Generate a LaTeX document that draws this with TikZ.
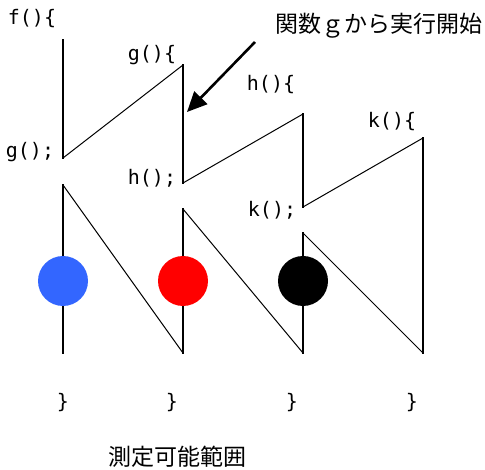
\documentclass[tikz,border=0pt]{standalone}
\usepackage{fontspec}
\usepackage{xcolor}
\usepackage{tikz}
\usetikzlibrary{arrows.meta, positioning}
\newfontfamily\jpfont{Noto Sans CJK JP}
\newfontfamily\codefont{DejaVu Sans Mono}
\definecolor{CallBlue}{RGB}{51, 102, 255}
\definecolor{CallRed}{RGB}{255, 0, 0}
\definecolor{CallBlack}{RGB}{0, 0, 0}
\tikzset{
  code/.style={inner sep=0pt, font=\codefont\fontsize{20}{22}\selectfont,
    text height=15pt, text depth=4pt},
  jlabel/.style={inner sep=0pt, font=\jpfont\fontsize{23}{25}\selectfont},
  vert/.style={line width=1.6pt, line cap=rect},
  diag/.style={line width=1pt},
  mark dot/.style={circle, inner sep=0pt, minimum size=50pt, draw=none},
  startarr/.style={-{Triangle[length=20pt,width=18pt]}, line width=2.6pt},
}

\begin{document}
\begin{tikzpicture}[x=1pt, y=-1pt]
  \useasboundingbox (0,0) rectangle (485,470);
  % stack of calls, entering
  \coordinate (f1) at (63,40);
  \coordinate (g0) at (63,158);
  \coordinate (g1) at (183,65);
  \coordinate (h0) at (183,183);
  \coordinate (h1) at (303,114);
  \coordinate (k0) at (303,207);
  \coordinate (k1) at (423,138);
  \coordinate (kend) at (423,353);
  % returning
  \coordinate (fa) at (63,185);
  \coordinate (fb) at (63,353);
  \coordinate (ga) at (183,209);
  \coordinate (gb) at (183,353);
  \coordinate (ha) at (303,233);
  \coordinate (hb) at (303,353);

  \draw[vert] (f1) -- (g0);
  \draw[diag] (g0) -- (g1);
  \draw[vert] (g1) -- (h0);
  \draw[diag] (h0) -- (h1);
  \draw[vert] (h1) -- (k0);
  \draw[diag] (k0) -- (k1);
  \draw[vert] (k1) -- (kend);

  \draw[vert] (fb) -- (fa);
  \draw[diag] (fa) -- (gb);
  \draw[vert] (gb) -- (ga);
  \draw[diag] (ga) -- (hb);
  \draw[vert] (hb) -- (ha);
  \draw[diag] (ha) -- (kend);

  \node[mark dot, fill=CallBlue] (dotf) at (63,281) {};
  \node[mark dot, fill=CallRed] (dotg) at (183,281) {};
  \node[mark dot, fill=CallBlack] (doth) at (303,281) {};

  \node[code] (fopen) at (32,19) {f()\{};
  \node[code] (gcall) at (30,152) {g();};
  \node[code] (gopen) at (152,55) {g()\{};
  \node[code] (hcall) at (152,179) {h();};
  \node[code] (hopen) at (271,85) {h()\{};
  \node[code] (kopen) at (392,122) {k()\{};
  \node[code] (kcall) at (272,211) {k();};

  \node[code] (fclose) at (63,403) {\}};
  \node[code] (gclose) at (172,403) {\}};
  \node[code] (hclose) at (292,403) {\}};
  \node[code] (kclose) at (412,403) {\}};

  \node[jlabel] (start) at (379,26) {関数ｇから実行開始};
  \coordinate (arrtail) at (255,42);
  \coordinate (arrhead) at (187,112);
  \draw[startarr] (arrtail) -- (arrhead);

  \node[jlabel] (range) at (177,457) {測定可能範囲};
\end{tikzpicture}
\end{document}
